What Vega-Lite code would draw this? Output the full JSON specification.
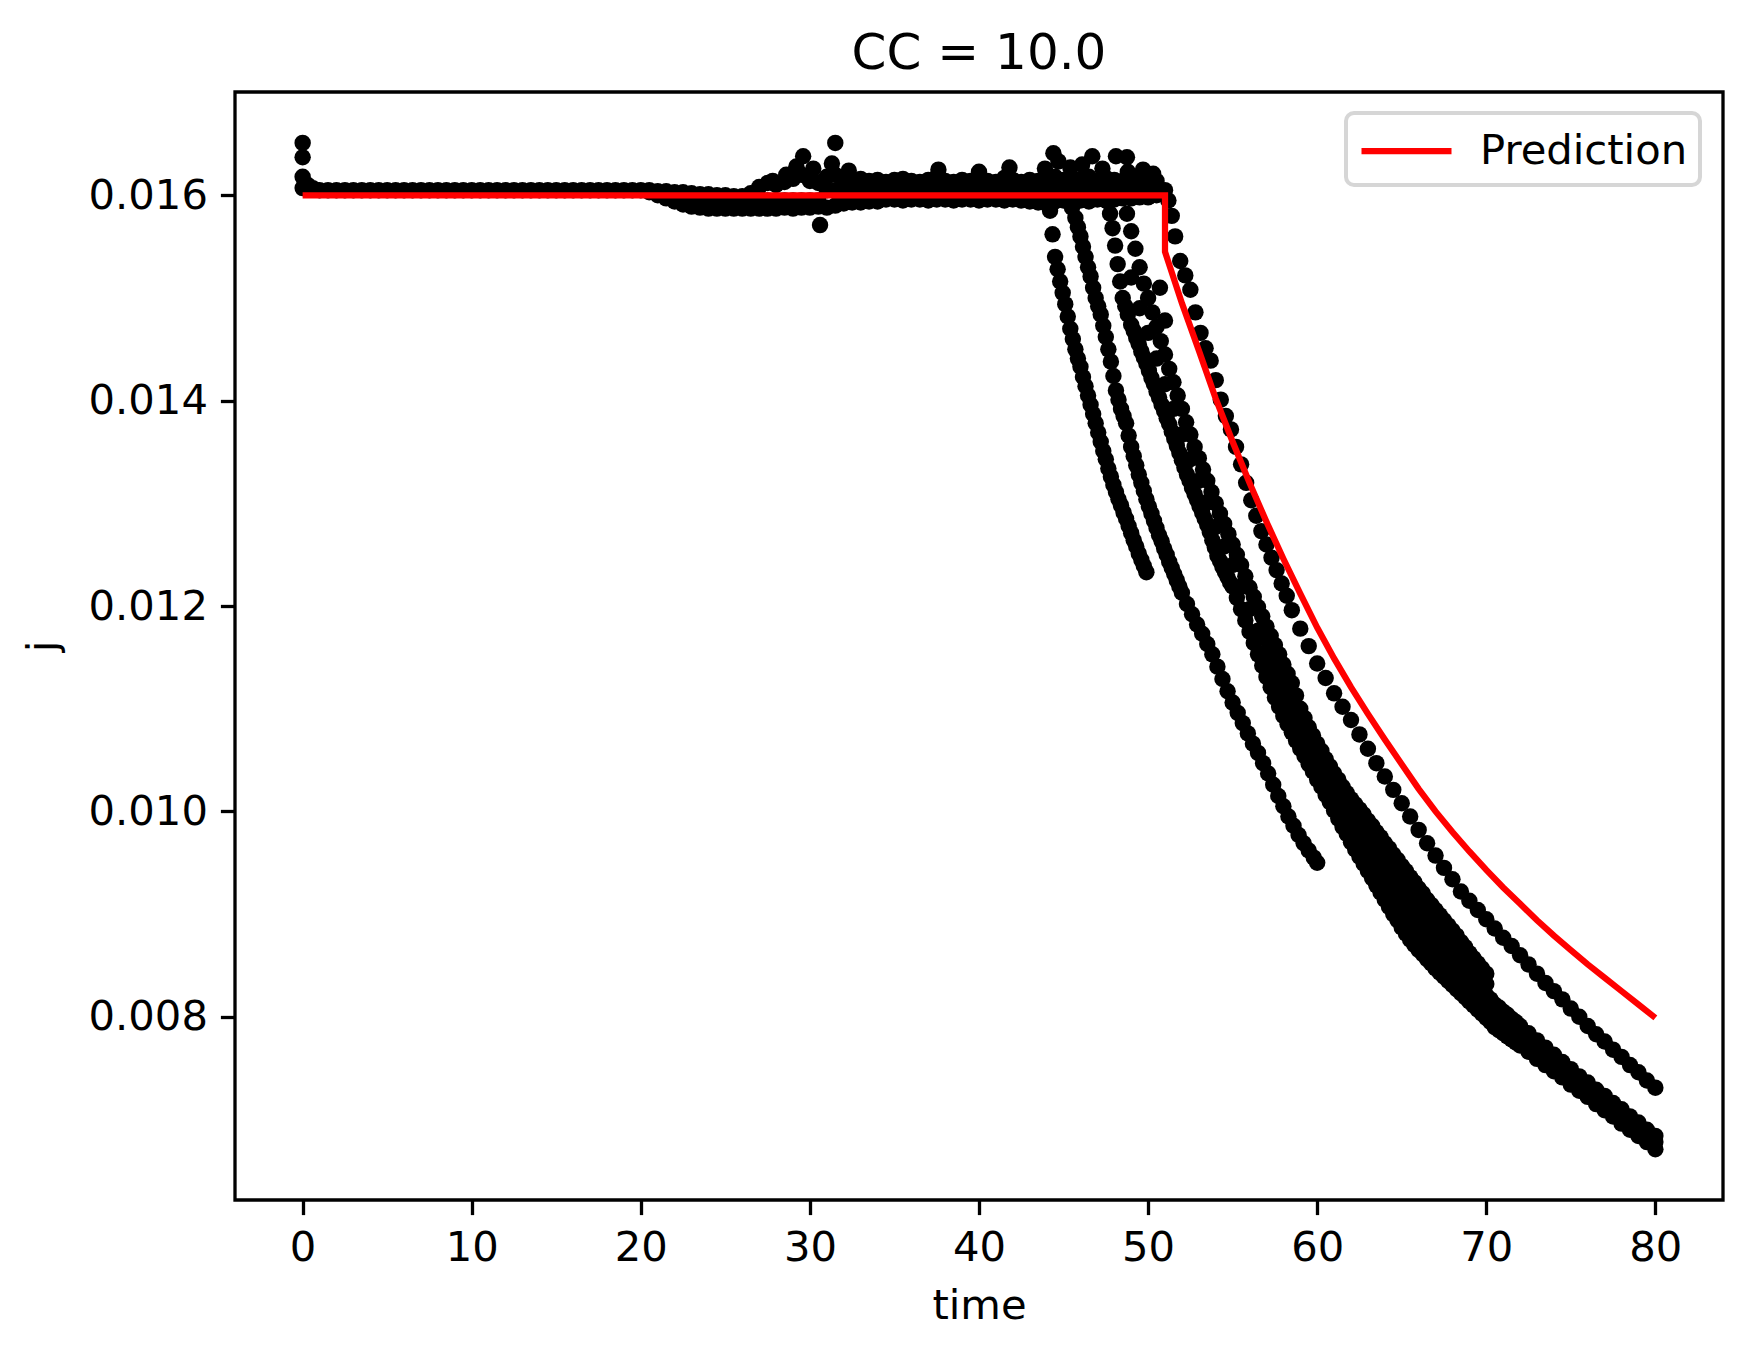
{
  "$schema": "https://vega.github.io/schema/vega-lite/v6.json",
  "width": 1488,
  "height": 1108,
  "autosize": {"type": "none"},
  "padding": {"left": 235, "top": 92, "right": 30, "bottom": 157},
  "background": "white",
  "title": {"text": "CC = 10.0", "font": "DejaVu Sans", "fontSize": 50, "fontWeight": "normal", "color": "#000000", "anchor": "middle", "baseline": "alphabetic", "offset": 23, "dy": 50},
  "config": {
    "view": {"stroke": "#000000", "strokeWidth": 3.3},
    "axis": {
      "labelFont": "DejaVu Sans", "labelFontSize": 41.7, "labelColor": "#000000",
      "titleFont": "DejaVu Sans", "titleFontSize": 41.7, "titleFontWeight": "normal", "titleColor": "#000000",
      "tickColor": "#000000", "tickWidth": 3.3, "tickSize": 14.6,
      "domain": false, "grid": false, "labelPadding": 13, "labelFlush": false, "labelOverlap": false
    }
  },
  "datasets": {
    "obs": [
      {"t":0,"j":0.01651},{"t":0,"j":0.01637},{"t":0,"j":0.01618},{"t":0,"j":0.01607},{"t":0.3,"j":0.0161},{"t":0.6,"j":0.01607},
      {"t":1,"j":0.01605},{"t":1.5,"j":0.01605},{"t":2,"j":0.01605},{"t":2.5,"j":0.01605},{"t":3,"j":0.01605},{"t":3.5,"j":0.01605},{"t":4,"j":0.01605},{"t":4.5,"j":0.01605},{"t":5,"j":0.01605},{"t":5.5,"j":0.01605},
      {"t":6,"j":0.01605},{"t":6.5,"j":0.01605},{"t":7,"j":0.01605},{"t":7.5,"j":0.01605},{"t":8,"j":0.01605},{"t":8.5,"j":0.01605},{"t":9,"j":0.01605},{"t":9.5,"j":0.01605},{"t":10,"j":0.01605},{"t":10.5,"j":0.01605},
      {"t":11,"j":0.01605},{"t":11.5,"j":0.01605},{"t":12,"j":0.01605},{"t":12.5,"j":0.01605},{"t":13,"j":0.01605},{"t":13.5,"j":0.01605},{"t":14,"j":0.01605},{"t":14.5,"j":0.01605},{"t":15,"j":0.01605},{"t":15.5,"j":0.01605},
      {"t":16,"j":0.01605},{"t":16.5,"j":0.01605},{"t":17,"j":0.01605},{"t":17.5,"j":0.01605},{"t":18,"j":0.01605},{"t":18.5,"j":0.01605},{"t":19,"j":0.01605},{"t":19.5,"j":0.01605},{"t":20,"j":0.01605},
      {"t":20.5,"j":0.01605},{"t":21,"j":0.01604},{"t":21.5,"j":0.01604},{"t":22,"j":0.01603},{"t":22.5,"j":0.01603},{"t":23,"j":0.01602},{"t":23.5,"j":0.01601},{"t":24,"j":0.01601},{"t":24.5,"j":0.016},{"t":25,"j":0.016},{"t":25.5,"j":0.01599},{"t":26,"j":0.01599},{"t":26.5,"j":0.01599},
      {"t":20.5,"j":0.01603},{"t":21,"j":0.016},{"t":21.5,"j":0.01597},{"t":22,"j":0.01594},{"t":22.5,"j":0.01591},{"t":23,"j":0.01589},{"t":23.5,"j":0.01588},{"t":24,"j":0.01587},{"t":24.5,"j":0.01587},{"t":25,"j":0.01587},
      {"t":25.5,"j":0.01587},{"t":26,"j":0.01587},{"t":26.5,"j":0.01587},{"t":27,"j":0.01587},{"t":27.5,"j":0.01587},{"t":28,"j":0.01587},{"t":28.5,"j":0.01588},{"t":29,"j":0.01587},{"t":29.5,"j":0.01588},{"t":30,"j":0.01588},
      {"t":30.5,"j":0.01589},{"t":31,"j":0.01588},{"t":31.5,"j":0.0159},{"t":32,"j":0.01592},{"t":32.5,"j":0.01593},{"t":33,"j":0.01593},{"t":33.5,"j":0.01594},{"t":34,"j":0.01594},{"t":34.5,"j":0.01596},{"t":35,"j":0.01596},
      {"t":35.5,"j":0.01595},{"t":36,"j":0.01596},{"t":36.5,"j":0.01596},{"t":37,"j":0.01595},{"t":37.5,"j":0.01596},{"t":38,"j":0.01596},{"t":38.5,"j":0.01595},{"t":39,"j":0.01596},{"t":39.5,"j":0.01596},{"t":40,"j":0.01595},
      {"t":40.5,"j":0.01596},{"t":41,"j":0.01596},{"t":41.5,"j":0.01595},{"t":42,"j":0.01596},{"t":42.5,"j":0.01595},{"t":43,"j":0.01594},{"t":43.5,"j":0.01593},{"t":44,"j":0.01592},{"t":44.5,"j":0.01594},{"t":45,"j":0.01595},
      {"t":45.5,"j":0.01594},{"t":46,"j":0.01595},{"t":46.5,"j":0.01594},{"t":47,"j":0.01596},{"t":47.5,"j":0.01595},{"t":48,"j":0.01596},{"t":48.5,"j":0.01597},{"t":49,"j":0.01597},{"t":49.5,"j":0.01598},{"t":50,"j":0.01598},{"t":50.5,"j":0.016},
      {"t":22,"j":0.01597},{"t":22.5,"j":0.01596},{"t":23,"j":0.01595},{"t":23.5,"j":0.01595},{"t":24,"j":0.01595},{"t":24.5,"j":0.01595},{"t":25,"j":0.01595},{"t":25.5,"j":0.01595},{"t":26,"j":0.01595},{"t":26.5,"j":0.01595},
      {"t":27,"j":0.01595},{"t":27.5,"j":0.01595},{"t":28,"j":0.01595},{"t":28.5,"j":0.01595},{"t":29,"j":0.01595},{"t":29.5,"j":0.01595},{"t":30,"j":0.01595},{"t":30.5,"j":0.01595},
      {"t":31,"j":0.01605},{"t":31.5,"j":0.01605},{"t":32,"j":0.01605},{"t":32.5,"j":0.01605},{"t":33,"j":0.01605},{"t":33.5,"j":0.01605},{"t":34,"j":0.01605},{"t":34.5,"j":0.01605},{"t":35,"j":0.01605},{"t":35.5,"j":0.01605},
      {"t":36,"j":0.01605},{"t":36.5,"j":0.01605},{"t":37,"j":0.01605},{"t":37.5,"j":0.01605},{"t":38,"j":0.01605},{"t":38.5,"j":0.01605},{"t":39,"j":0.01605},{"t":39.5,"j":0.01605},{"t":40,"j":0.01605},{"t":40.5,"j":0.01605},
      {"t":41,"j":0.01605},{"t":41.5,"j":0.01605},{"t":42,"j":0.01605},{"t":42.5,"j":0.01605},{"t":43,"j":0.01605},{"t":43.5,"j":0.01605},{"t":44,"j":0.01605},{"t":44.5,"j":0.01605},{"t":45,"j":0.01605},{"t":45.5,"j":0.01605},
      {"t":46,"j":0.01605},{"t":46.5,"j":0.01605},{"t":47,"j":0.01605},{"t":47.5,"j":0.01605},{"t":48,"j":0.01605},{"t":48.5,"j":0.01605},{"t":49,"j":0.01605},{"t":49.5,"j":0.01605},{"t":50,"j":0.01605},{"t":50.5,"j":0.01605},
      {"t":26.5,"j":0.01602},{"t":27,"j":0.01608},{"t":27.5,"j":0.01612},{"t":28,"j":0.0161},{"t":28.5,"j":0.01613},{"t":29,"j":0.01616},{"t":29.5,"j":0.0162},{"t":30,"j":0.01614},{"t":30.5,"j":0.01612},{"t":31,"j":0.01618},
      {"t":31.5,"j":0.0162},{"t":32,"j":0.01615},{"t":32.5,"j":0.01613},{"t":33,"j":0.01616},{"t":33.5,"j":0.01614},{"t":34,"j":0.01615},{"t":34.5,"j":0.01613},{"t":35,"j":0.01615},{"t":35.5,"j":0.01616},{"t":36,"j":0.01614},
      {"t":36.5,"j":0.01613},{"t":37,"j":0.01615},{"t":37.5,"j":0.01618},{"t":38,"j":0.01614},{"t":38.5,"j":0.01613},{"t":39,"j":0.01615},{"t":39.5,"j":0.01614},{"t":40,"j":0.01617},{"t":40.5,"j":0.01614},{"t":41,"j":0.01613},
      {"t":41.5,"j":0.01617},{"t":42,"j":0.01615},{"t":42.5,"j":0.01613},{"t":43,"j":0.01615},{"t":43.5,"j":0.01614},{"t":44,"j":0.01616},{"t":44.5,"j":0.01618},{"t":45,"j":0.01615},{"t":45.5,"j":0.01614},{"t":46,"j":0.01616},
      {"t":46.5,"j":0.01618},{"t":47,"j":0.01614},{"t":47.5,"j":0.01617},{"t":48,"j":0.01615},{"t":48.5,"j":0.01614},{"t":49,"j":0.01615},{"t":49.5,"j":0.01617},{"t":50,"j":0.01616},{"t":50.5,"j":0.01614},
      {"t":27.8,"j":0.01614},{"t":28.6,"j":0.0162},{"t":29.2,"j":0.01628},{"t":29.6,"j":0.01638},{"t":30.2,"j":0.01626},{"t":31.3,"j":0.01631},{"t":31.5,"j":0.01651},{"t":32.3,"j":0.01624},{"t":30.6,"j":0.01571},
      {"t":37.6,"j":0.01625},{"t":40,"j":0.01623},{"t":41.8,"j":0.01627},{"t":43.9,"j":0.01626},{"t":44.4,"j":0.01641},{"t":44.7,"j":0.01633},{"t":45.4,"j":0.01627},{"t":46.1,"j":0.0163},{"t":46.7,"j":0.01638},
      {"t":47.3,"j":0.01626},{"t":48.1,"j":0.01638},{"t":48.75,"j":0.01637},{"t":48.8,"j":0.01623},{"t":49.7,"j":0.01625},{"t":50.3,"j":0.01621},
      {"t":44.2,"j":0.01585},{"t":44.35,"j":0.01562},{"t":44.5,"j":0.0154},{"t":44.65,"j":0.01528},{"t":44.8,"j":0.01516},{"t":44.95,"j":0.01505},{"t":45.1,"j":0.01494},{"t":45.25,"j":0.01482},{"t":45.4,"j":0.0147},{"t":45.55,"j":0.0146},
      {"t":45.7,"j":0.0145},{"t":45.85,"j":0.01441},{"t":46,"j":0.01433},{"t":46.15,"j":0.01423},{"t":46.3,"j":0.01414},{"t":46.45,"j":0.01405},{"t":46.6,"j":0.01396},{"t":46.75,"j":0.01387},{"t":46.9,"j":0.01378},{"t":47.05,"j":0.01369},
      {"t":47.2,"j":0.0136},{"t":47.35,"j":0.01351},{"t":47.5,"j":0.01343},{"t":47.65,"j":0.01334},{"t":47.8,"j":0.01326},{"t":47.95,"j":0.01318},{"t":48.1,"j":0.01311},{"t":48.25,"j":0.01304},{"t":48.4,"j":0.01298},{"t":48.55,"j":0.01291},
      {"t":48.7,"j":0.01285},{"t":48.85,"j":0.01278},{"t":49,"j":0.01271},{"t":49.15,"j":0.01264},{"t":49.3,"j":0.01258},{"t":49.45,"j":0.01251},{"t":49.6,"j":0.01245},{"t":49.75,"j":0.01239},{"t":49.9,"j":0.01233},
      {"t":45.3,"j":0.01598},{"t":45.5,"j":0.01588},{"t":45.7,"j":0.01578},{"t":45.85,"j":0.01569},{"t":46,"j":0.0156},{"t":46.15,"j":0.0155},{"t":46.3,"j":0.0154},{"t":46.45,"j":0.0153},{"t":46.6,"j":0.01521},{"t":46.75,"j":0.0151},
      {"t":46.9,"j":0.015},{"t":47.05,"j":0.01492},{"t":47.2,"j":0.01484},{"t":47.35,"j":0.01473},{"t":47.5,"j":0.01462},{"t":47.65,"j":0.0145},{"t":47.8,"j":0.01438},{"t":47.95,"j":0.01424},{"t":48.1,"j":0.0141},{"t":48.25,"j":0.01401},
      {"t":48.4,"j":0.01392},{"t":48.55,"j":0.01385},{"t":48.7,"j":0.01378},{"t":48.85,"j":0.01366},{"t":49,"j":0.01355},{"t":49.15,"j":0.01346},{"t":49.3,"j":0.01337},{"t":49.45,"j":0.01328},{"t":49.6,"j":0.0132},{"t":49.75,"j":0.01312},
      {"t":49.9,"j":0.01304},{"t":50.05,"j":0.01297},{"t":50.2,"j":0.0129},{"t":50.35,"j":0.01283},{"t":50.5,"j":0.01276},{"t":50.65,"j":0.01269},{"t":50.8,"j":0.01263},{"t":50.95,"j":0.01256},{"t":51.1,"j":0.0125},{"t":51.25,"j":0.01243},
      {"t":51.4,"j":0.01237},{"t":51.55,"j":0.01231},{"t":51.7,"j":0.01225},{"t":51.85,"j":0.01219},{"t":52,"j":0.01213},{"t":52.3,"j":0.01202},{"t":52.6,"j":0.01192},{"t":52.9,"j":0.01182},{"t":53.2,"j":0.01173},{"t":53.5,"j":0.01163},
      {"t":53.8,"j":0.01153},{"t":54.1,"j":0.01141},{"t":54.4,"j":0.01129},{"t":54.7,"j":0.01117},{"t":55,"j":0.01106},{"t":55.3,"j":0.01096},{"t":55.6,"j":0.01086},{"t":55.9,"j":0.01076},{"t":56.2,"j":0.01066},{"t":56.5,"j":0.01057},
      {"t":56.8,"j":0.01047},{"t":57.1,"j":0.01037},{"t":57.4,"j":0.01026},{"t":57.7,"j":0.01015},{"t":58,"j":0.01005},{"t":58.3,"j":0.00995},{"t":58.6,"j":0.00986},{"t":58.9,"j":0.00977},{"t":59.2,"j":0.00969},{"t":59.5,"j":0.00962},
      {"t":59.8,"j":0.00955},{"t":60,"j":0.0095},
      {"t":47.6,"j":0.01594},{"t":47.75,"j":0.01582},{"t":47.9,"j":0.01568},{"t":48.05,"j":0.01551},{"t":48.2,"j":0.01533},{"t":48.35,"j":0.01516},{"t":48.5,"j":0.015},{"t":48.65,"j":0.01492},{"t":48.8,"j":0.01484},{"t":49,"j":0.01474},
      {"t":49.15,"j":0.01468},{"t":49.3,"j":0.01461},{"t":49.45,"j":0.01455},{"t":49.6,"j":0.01448},{"t":49.75,"j":0.01442},{"t":49.9,"j":0.01436},{"t":50.05,"j":0.01429},{"t":50.2,"j":0.01422},{"t":50.35,"j":0.01416},{"t":50.5,"j":0.01409},
      {"t":50.65,"j":0.01403},{"t":50.8,"j":0.01396},{"t":50.95,"j":0.0139},{"t":51.1,"j":0.01383},{"t":51.25,"j":0.01377},{"t":51.4,"j":0.0137},{"t":51.55,"j":0.01363},{"t":51.7,"j":0.01356},{"t":51.85,"j":0.01349},{"t":52,"j":0.01342},
      {"t":52.15,"j":0.01335},{"t":52.3,"j":0.01328},{"t":52.45,"j":0.01322},{"t":52.6,"j":0.01315},{"t":52.75,"j":0.01309},{"t":52.9,"j":0.01303},{"t":53.05,"j":0.01297},{"t":53.2,"j":0.01291},{"t":53.35,"j":0.01285},{"t":53.5,"j":0.01279},
      {"t":53.65,"j":0.01272},{"t":53.8,"j":0.01264},{"t":53.95,"j":0.01257},{"t":54.1,"j":0.01249},{"t":54.25,"j":0.01244},{"t":54.4,"j":0.01238},{"t":54.55,"j":0.01233},{"t":54.7,"j":0.01228},{"t":54.85,"j":0.01223},{"t":55,"j":0.01219},
      {"t":55.25,"j":0.01208},{"t":55.5,"j":0.01197},{"t":55.75,"j":0.01186},{"t":56,"j":0.01175},{"t":56.25,"j":0.01164},{"t":56.5,"j":0.01153},{"t":56.75,"j":0.01142},{"t":57,"j":0.01131},{"t":57.5,"j":0.01111},{"t":58,"j":0.01093},
      {"t":58.5,"j":0.01077},{"t":59,"j":0.01061},{"t":59.5,"j":0.01046},{"t":60,"j":0.01031},{"t":60.5,"j":0.01016},{"t":61,"j":0.01001},{"t":61.5,"j":0.00985},{"t":62,"j":0.0097},{"t":62.5,"j":0.00956},{"t":63,"j":0.00942},
      {"t":63.5,"j":0.00928},{"t":64,"j":0.00914},{"t":64.5,"j":0.009},{"t":65,"j":0.00887},{"t":65.5,"j":0.00875},{"t":66,"j":0.00865},{"t":66.5,"j":0.00856},{"t":67,"j":0.00847},{"t":67.5,"j":0.00839},{"t":68,"j":0.00831},
      {"t":68.5,"j":0.00823},{"t":69,"j":0.00815},{"t":69.5,"j":0.00807},{"t":70,"j":0.00799},{"t":70.5,"j":0.0079},{"t":71,"j":0.00784},{"t":71.5,"j":0.00778},{"t":72,"j":0.00772},{"t":72.5,"j":0.00766},{"t":73,"j":0.00759},
      {"t":73.5,"j":0.00753},{"t":74,"j":0.00747},{"t":74.5,"j":0.00741},{"t":75,"j":0.00734},{"t":75.5,"j":0.00728},{"t":76,"j":0.00722},{"t":76.5,"j":0.00715},{"t":77,"j":0.00709},{"t":77.5,"j":0.00703},{"t":78,"j":0.00696},
      {"t":78.5,"j":0.0069},{"t":79,"j":0.00684},{"t":79.5,"j":0.00678},{"t":80,"j":0.00671},
      {"t":57.25,"j":0.01121},{"t":57.75,"j":0.01102},{"t":58.25,"j":0.01085},{"t":58.75,"j":0.01069},{"t":59.25,"j":0.01054},{"t":59.75,"j":0.01039},{"t":60.25,"j":0.01024},{"t":60.75,"j":0.01009},{"t":61.25,"j":0.00993},{"t":61.75,"j":0.00978},
      {"t":62.25,"j":0.00963},{"t":62.75,"j":0.00949},{"t":63.25,"j":0.00935},{"t":63.75,"j":0.00921},{"t":64.25,"j":0.00907},{"t":64.75,"j":0.00894},{"t":65.25,"j":0.00881},{"t":65.75,"j":0.0087},{"t":66.25,"j":0.00861},{"t":66.75,"j":0.00852},
      {"t":67.25,"j":0.00843},{"t":67.75,"j":0.00835},{"t":68.25,"j":0.00827},{"t":68.75,"j":0.00819},{"t":69.25,"j":0.00811},{"t":69.75,"j":0.00803},{"t":70.25,"j":0.00795},{"t":70.75,"j":0.00787},{"t":71.25,"j":0.00781},{"t":71.75,"j":0.00775},
      {"t":48.5,"j":0.016},{"t":48.75,"j":0.01582},{"t":49,"j":0.01565},{"t":49.25,"j":0.01548},{"t":49.5,"j":0.0153},{"t":49.75,"j":0.01514},{"t":50,"j":0.015},{"t":50.25,"j":0.01486},{"t":50.5,"j":0.01472},{"t":50.75,"j":0.01458},
      {"t":51,"j":0.01445},{"t":51.25,"j":0.01431},{"t":51.5,"j":0.01418},{"t":51.75,"j":0.01405},{"t":52,"j":0.01392},{"t":52.25,"j":0.01379},{"t":52.5,"j":0.01367},{"t":52.75,"j":0.01355},{"t":53,"j":0.01344},{"t":53.25,"j":0.01333},
      {"t":53.5,"j":0.01322},{"t":53.75,"j":0.01311},{"t":54,"j":0.013},{"t":54.25,"j":0.0129},{"t":54.5,"j":0.0128},{"t":54.75,"j":0.0127},{"t":55,"j":0.0126},{"t":55.25,"j":0.0125},{"t":55.5,"j":0.0124},{"t":55.75,"j":0.01229},
      {"t":56,"j":0.01218},{"t":56.5,"j":0.01199},{"t":57,"j":0.0118},{"t":57.5,"j":0.01162},{"t":58,"j":0.01143},{"t":58.5,"j":0.01125},{"t":59,"j":0.011},{"t":59.5,"j":0.01082},{"t":60,"j":0.01066},{"t":60.5,"j":0.01051},
      {"t":61,"j":0.01037},{"t":61.5,"j":0.01024},{"t":62,"j":0.01012},{"t":62.5,"j":0.01002},{"t":63,"j":0.00991},{"t":63.5,"j":0.0098},{"t":64,"j":0.00969},{"t":64.5,"j":0.00958},{"t":65,"j":0.00947},{"t":65.5,"j":0.00936},
      {"t":66,"j":0.00925},{"t":66.5,"j":0.00914},{"t":67,"j":0.00904},{"t":67.5,"j":0.00894},{"t":68,"j":0.00884},{"t":68.5,"j":0.00873},{"t":69,"j":0.00862},{"t":69.5,"j":0.00852},{"t":70,"j":0.00842},{"t":51,"j":0.01478},{"t":50.7,"j":0.0151},
      {"t":56.25,"j":0.01209},{"t":56.75,"j":0.0119},{"t":57.25,"j":0.01171},{"t":57.75,"j":0.01153},{"t":58.25,"j":0.01134},{"t":58.75,"j":0.01113},{"t":59.25,"j":0.01091},{"t":59.75,"j":0.01074},{"t":60.25,"j":0.01059},{"t":60.75,"j":0.01044},
      {"t":61.25,"j":0.01031},{"t":61.75,"j":0.01018},{"t":62.25,"j":0.01007},{"t":62.75,"j":0.00997},{"t":63.25,"j":0.00986},{"t":63.75,"j":0.00975},{"t":64.25,"j":0.00964},{"t":64.75,"j":0.00953},{"t":65.25,"j":0.00942},{"t":65.75,"j":0.00931},
      {"t":66.25,"j":0.0092},{"t":66.75,"j":0.00909},{"t":67.25,"j":0.00899},{"t":67.75,"j":0.00889},{"t":68.25,"j":0.00879},{"t":68.75,"j":0.00868},{"t":69.25,"j":0.00857},{"t":69.75,"j":0.00847},
      {"t":49,"j":0.0152},{"t":49.5,"j":0.0149},{"t":50,"j":0.01466},{"t":50.5,"j":0.01441},{"t":51,"j":0.01416},{"t":51.5,"j":0.01392},{"t":52,"j":0.01367},{"t":52.5,"j":0.01343},{"t":53,"j":0.01322},{"t":53.5,"j":0.01301},
      {"t":54,"j":0.01277},{"t":54.5,"j":0.01258},{"t":55,"j":0.0124},{"t":55.5,"j":0.01219},{"t":56,"j":0.01197},{"t":56.5,"j":0.01176},{"t":57,"j":0.01156},{"t":57.5,"j":0.01137},{"t":58,"j":0.01118},{"t":58.5,"j":0.01101},
      {"t":59,"j":0.01081},{"t":59.5,"j":0.01064},{"t":60,"j":0.01049},{"t":60.5,"j":0.01034},{"t":61,"j":0.01019},{"t":61.5,"j":0.01005},{"t":62,"j":0.00991},{"t":62.5,"j":0.00979},{"t":63,"j":0.00967},{"t":63.5,"j":0.00954},
      {"t":64,"j":0.00942},{"t":64.5,"j":0.00929},{"t":65,"j":0.00917},{"t":65.5,"j":0.00906},{"t":66,"j":0.00895},{"t":66.5,"j":0.00885},{"t":67,"j":0.00876},{"t":67.5,"j":0.00867},{"t":68,"j":0.00858},{"t":68.5,"j":0.00848},
      {"t":69,"j":0.00839},{"t":69.5,"j":0.0083},{"t":70,"j":0.00821},{"t":70.5,"j":0.00812},{"t":71,"j":0.00805},{"t":71.5,"j":0.00798},{"t":72,"j":0.00791},{"t":72.5,"j":0.00784},{"t":73,"j":0.00777},{"t":73.5,"j":0.0077},
      {"t":74,"j":0.00763},{"t":74.5,"j":0.00756},{"t":75,"j":0.00749},{"t":75.5,"j":0.00742},{"t":76,"j":0.00736},{"t":76.5,"j":0.00729},{"t":77,"j":0.00723},{"t":77.5,"j":0.00716},{"t":78,"j":0.0071},{"t":78.5,"j":0.00703},
      {"t":79,"j":0.00697},{"t":79.5,"j":0.0069},{"t":80,"j":0.00684},
      {"t":57.25,"j":0.01147},{"t":57.75,"j":0.01128},{"t":58.25,"j":0.0111},{"t":58.75,"j":0.01091},{"t":59.25,"j":0.01073},{"t":59.75,"j":0.01057},{"t":60.25,"j":0.01042},{"t":60.75,"j":0.01027},{"t":61.25,"j":0.01012},{"t":61.75,"j":0.00998},
      {"t":62.25,"j":0.00985},{"t":62.75,"j":0.00973},{"t":63.25,"j":0.00961},{"t":63.75,"j":0.00948},{"t":64.25,"j":0.00936},{"t":64.75,"j":0.00923},{"t":65.25,"j":0.00912},{"t":65.75,"j":0.00901},{"t":66.25,"j":0.0089},{"t":66.75,"j":0.00881},
      {"t":67.25,"j":0.00872},{"t":67.75,"j":0.00863},{"t":68.25,"j":0.00853},{"t":68.75,"j":0.00844},{"t":69.25,"j":0.00835},{"t":69.75,"j":0.00826},{"t":70.25,"j":0.00817},{"t":70.75,"j":0.00809},{"t":71.25,"j":0.00802},{"t":71.75,"j":0.00795},
      {"t":57,"j":0.01144},{"t":57.5,"j":0.01124},{"t":58,"j":0.01106},{"t":58.5,"j":0.01089},{"t":59,"j":0.01071},{"t":59.5,"j":0.01055},{"t":60,"j":0.0104},{"t":60.5,"j":0.01025},{"t":61,"j":0.0101},{"t":61.5,"j":0.00995},
      {"t":62,"j":0.00981},{"t":62.5,"j":0.00968},{"t":63,"j":0.00955},{"t":63.5,"j":0.00941},{"t":64,"j":0.00928},{"t":64.5,"j":0.00915},{"t":65,"j":0.00902},{"t":65.5,"j":0.00891},{"t":66,"j":0.0088},{"t":66.5,"j":0.00871},
      {"t":67,"j":0.00862},{"t":67.5,"j":0.00853},{"t":68,"j":0.00845},{"t":68.5,"j":0.00836},{"t":69,"j":0.00827},{"t":69.5,"j":0.00819},{"t":70,"j":0.0081},{"t":70.5,"j":0.00801},{"t":71,"j":0.00795},{"t":71.5,"j":0.00788},
      {"t":72,"j":0.00782},{"t":72.5,"j":0.00775},{"t":73,"j":0.00768},{"t":73.5,"j":0.00762},{"t":74,"j":0.00755},{"t":74.5,"j":0.00749},{"t":75,"j":0.00742},{"t":75.5,"j":0.00735},{"t":76,"j":0.00729},{"t":76.5,"j":0.00722},
      {"t":77,"j":0.00716},{"t":77.5,"j":0.0071},{"t":78,"j":0.00703},{"t":78.5,"j":0.00697},{"t":79,"j":0.0069},{"t":79.5,"j":0.00684},{"t":80,"j":0.00678},
      {"t":57.25,"j":0.01134},{"t":57.75,"j":0.01115},{"t":58.25,"j":0.01098},{"t":58.75,"j":0.0108},{"t":59.25,"j":0.01063},{"t":59.75,"j":0.01048},{"t":60.25,"j":0.01033},{"t":60.75,"j":0.01018},{"t":61.25,"j":0.01003},{"t":61.75,"j":0.00988},
      {"t":62.25,"j":0.00975},{"t":62.75,"j":0.00962},{"t":63.25,"j":0.00948},{"t":63.75,"j":0.00935},{"t":64.25,"j":0.00922},{"t":64.75,"j":0.00909},{"t":65.25,"j":0.00897},{"t":65.75,"j":0.00886},{"t":66.25,"j":0.00876},{"t":66.75,"j":0.00867},
      {"t":67.25,"j":0.00858},{"t":67.75,"j":0.00849},{"t":68.25,"j":0.00841},{"t":68.75,"j":0.00832},{"t":69.25,"j":0.00823},{"t":69.75,"j":0.00815},{"t":70.25,"j":0.00806},{"t":70.75,"j":0.00798},{"t":71.25,"j":0.00792},{"t":71.75,"j":0.00785},
      {"t":57,"j":0.01168},{"t":57.5,"j":0.0115},{"t":58,"j":0.01131},{"t":58.5,"j":0.01113},{"t":59,"j":0.01091},{"t":59.5,"j":0.01073},{"t":60,"j":0.01058},{"t":60.5,"j":0.01043},{"t":61,"j":0.01028},{"t":61.5,"j":0.01015},
      {"t":62,"j":0.01002},{"t":62.5,"j":0.00991},{"t":63,"j":0.00979},{"t":63.5,"j":0.00967},{"t":64,"j":0.00956},{"t":64.5,"j":0.00944},{"t":65,"j":0.00932},{"t":65.5,"j":0.00921},{"t":66,"j":0.0091},{"t":66.5,"j":0.009},
      {"t":67,"j":0.0089},{"t":67.5,"j":0.00881},{"t":68,"j":0.00871},{"t":68.5,"j":0.00861},{"t":69,"j":0.00851},{"t":69.5,"j":0.00841},{"t":70,"j":0.00832},
      {"t":57.25,"j":0.01159},{"t":57.75,"j":0.01141},{"t":58.25,"j":0.01122},{"t":58.75,"j":0.01102},{"t":59.25,"j":0.01082},{"t":59.75,"j":0.01066},{"t":60.25,"j":0.01051},{"t":60.75,"j":0.01036},{"t":61.25,"j":0.01022},{"t":61.75,"j":0.01009},
      {"t":62.25,"j":0.00997},{"t":62.75,"j":0.00985},{"t":63.25,"j":0.00973},{"t":63.75,"j":0.00962},{"t":64.25,"j":0.0095},{"t":64.75,"j":0.00938},{"t":65.25,"j":0.00927},{"t":65.75,"j":0.00916},{"t":66.25,"j":0.00905},{"t":66.75,"j":0.00895},
      {"t":67.25,"j":0.00886},{"t":67.75,"j":0.00876},{"t":68.25,"j":0.00866},{"t":68.75,"j":0.00856},{"t":69.25,"j":0.00846},{"t":69.75,"j":0.00837},
      {"t":51,"j":0.01605},{"t":51.2,"j":0.01595},{"t":51.4,"j":0.0158},{"t":51.6,"j":0.0156},{"t":51.9,"j":0.01536},{"t":52.2,"j":0.01522},{"t":52.5,"j":0.01508},{"t":52.8,"j":0.01486},{"t":53.1,"j":0.01466},{"t":53.4,"j":0.01451},
      {"t":53.7,"j":0.01439},{"t":54,"j":0.0142},{"t":54.3,"j":0.01401},{"t":54.6,"j":0.01385},{"t":54.9,"j":0.01372},{"t":55.2,"j":0.01355},{"t":55.5,"j":0.01338},{"t":55.8,"j":0.0132},{"t":56.1,"j":0.01303},{"t":56.4,"j":0.01288},
      {"t":56.7,"j":0.01273},{"t":57,"j":0.0126},{"t":57.3,"j":0.01247},{"t":57.6,"j":0.01235},{"t":57.9,"j":0.01222},{"t":58.2,"j":0.0121},{"t":58.5,"j":0.01196},{"t":59,"j":0.01178},{"t":59.5,"j":0.01161},{"t":60,"j":0.01144},
      {"t":60.5,"j":0.0113},{"t":61,"j":0.01115},{"t":61.5,"j":0.01102},{"t":62,"j":0.01089},{"t":62.5,"j":0.01075},{"t":63,"j":0.01061},{"t":63.5,"j":0.01047},{"t":64,"j":0.01034},{"t":64.5,"j":0.01021},{"t":65,"j":0.01008},
      {"t":65.5,"j":0.00995},{"t":66,"j":0.00982},{"t":66.5,"j":0.00969},{"t":67,"j":0.00957},{"t":67.5,"j":0.00945},{"t":68,"j":0.00934},{"t":68.5,"j":0.00922},{"t":69,"j":0.00913},{"t":69.5,"j":0.00904},{"t":70,"j":0.00895},
      {"t":70.5,"j":0.00886},{"t":71,"j":0.00877},{"t":71.5,"j":0.00869},{"t":72,"j":0.0086},{"t":72.5,"j":0.00851},{"t":73,"j":0.00842},{"t":73.5,"j":0.00833},{"t":74,"j":0.00825},{"t":74.5,"j":0.00817},{"t":75,"j":0.00808},
      {"t":75.5,"j":0.008},{"t":76,"j":0.00791},{"t":76.5,"j":0.00783},{"t":77,"j":0.00776},{"t":77.5,"j":0.00768},{"t":78,"j":0.00761},{"t":78.5,"j":0.00753},{"t":79,"j":0.00746},{"t":79.5,"j":0.00738},{"t":80,"j":0.00731}
    ],
    "pred": [
      {"i":0,"t":0,"j":0.016},{"i":1,"t":51,"j":0.016},{"i":2,"t":51,"j":0.01545},{"i":3,"t":52,"j":0.01495},{"i":4,"t":53,"j":0.01449},
      {"i":5,"t":54,"j":0.01402},{"i":6,"t":55,"j":0.0136},{"i":7,"t":56,"j":0.0132},{"i":8,"t":57,"j":0.01282},{"i":9,"t":58,"j":0.01246},
      {"i":10,"t":59,"j":0.01212},{"i":11,"t":60,"j":0.01179},{"i":12,"t":61,"j":0.01149},{"i":13,"t":62,"j":0.01121},{"i":14,"t":63,"j":0.01095},
      {"i":15,"t":64,"j":0.0107},{"i":16,"t":65,"j":0.01046},{"i":17,"t":66,"j":0.01022},{"i":18,"t":67,"j":0.01},{"i":19,"t":68,"j":0.0098},
      {"i":20,"t":69,"j":0.00961},{"i":21,"t":70,"j":0.00943},{"i":22,"t":71,"j":0.00926},{"i":23,"t":72,"j":0.0091},{"i":24,"t":73,"j":0.00894},
      {"i":25,"t":74,"j":0.00879},{"i":26,"t":75,"j":0.00865},{"i":27,"t":76,"j":0.00851},{"i":28,"t":77,"j":0.00838},{"i":29,"t":78,"j":0.00825},
      {"i":30,"t":79,"j":0.00812},{"i":31,"t":80,"j":0.00799}
    ]
  },
  "layer": [
    {
      "data": {"name": "obs"},
      "mark": {"type": "circle", "size": 270, "color": "#000000", "opacity": 1},
      "encoding": {
        "x": {"field": "t", "type": "quantitative", "scale": {"domain": [-4, 84], "nice": false, "zero": false},
              "axis": {"values": [0, 10, 20, 30, 40, 50, 60, 70, 80], "title": "time", "titleY": 118, "titleBaseline": "alphabetic"}},
        "y": {"field": "j", "type": "quantitative", "scale": {"domain": [0.006216, 0.017006], "nice": false, "zero": false},
              "axis": {"values": [0.008, 0.01, 0.012, 0.014, 0.016], "format": ".3f", "title": "j", "titleX": -180, "titleY": 554, "titleBaseline": "alphabetic", "titleAngle": 270, "titleAlign": "center"}}
      }
    },
    {
      "data": {"name": "pred"},
      "mark": {"type": "line", "strokeWidth": 6.25},
      "encoding": {
        "x": {"field": "t", "type": "quantitative", "scale": {"domain": [-4, 84], "nice": false, "zero": false}},
        "y": {"field": "j", "type": "quantitative", "scale": {"domain": [0.006216, 0.017006], "nice": false, "zero": false}},
        "order": {"field": "i", "type": "quantitative"},
        "color": {
          "datum": "Prediction", "type": "nominal",
          "scale": {"domain": ["Prediction"], "range": ["#ff0000"]},
          "legend": {
            "orient": "none", "legendX": 1111, "legendY": 21, "title": null,
            "labelFont": "DejaVu Sans", "labelFontSize": 41.7, "labelColor": "#000000", "labelLimit": 400,
            "symbolType": "M-1,0H3", "symbolStrokeWidth": 6.25, "symbolSize": 2025, "labelOffset": 70,
            "padding": 12, "strokeColor": "#d6d6d6", "fillColor": "#ffffff", "cornerRadius": 8,
            "encode": {"legend": {"update": {"strokeWidth": {"value": 4}}}}
          }
        }
      }
    }
  ]
}
